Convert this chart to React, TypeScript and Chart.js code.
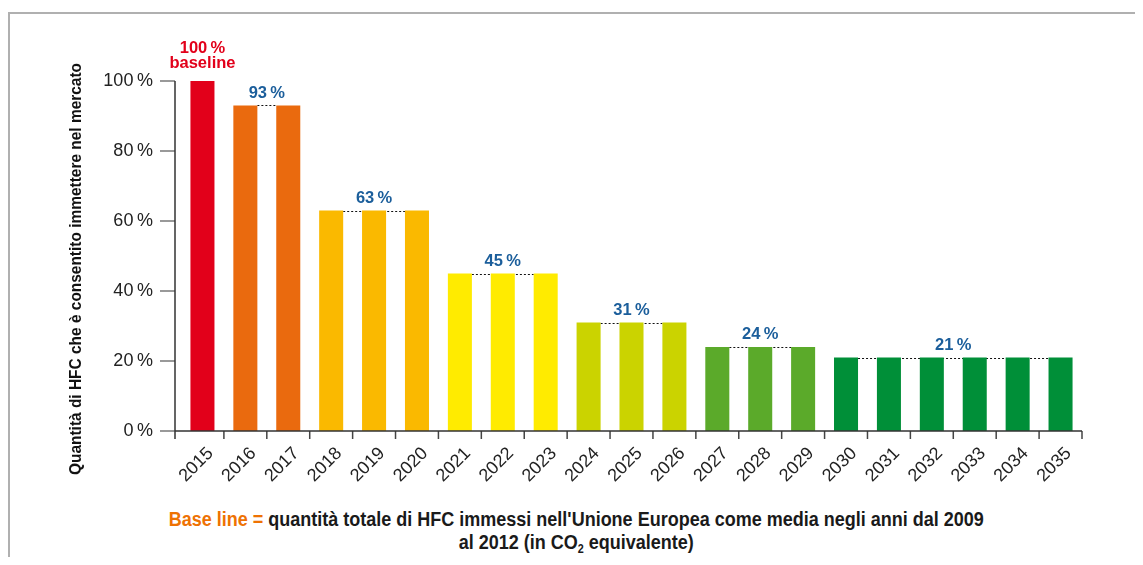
import React, { useEffect, useRef } from 'react';
import { Chart, registerables } from 'chart.js';

Chart.register(...registerables);

const years = ['2015', '2016', '2017', '2018', '2019', '2020', '2021', '2022', '2023', '2024', '2025', '2026', '2027', '2028', '2029', '2030', '2031', '2032', '2033', '2034', '2035'];
const quota = [100, 93, 93, 63, 63, 63, 45, 45, 45, 31, 31, 31, 24, 24, 24, 21, 21, 21, 21, 21, 21];
const yTickValues = [0, 20, 40, 60, 80, 100];
const baselineWord = 'baseline';
const yTitle = 'Quantità di HFC che è consentito immettere nel mercato';
const footerLead = 'Base line =';
const footerLine1 = " quantità totale di HFC immessi nell'Unione Europea come media negli anni dal 2009";
const footerLine2a = 'al 2012 (in CO';
const footerSub = '2';
const footerLine2b = ' equivalente)';

const phaseColors: Record<number, string> = {
  100: '#E2001A',
  93: '#EA6A0E',
  63: '#FAB900',
  45: '#FFEB00',
  31: '#CBD300',
  24: '#5BAA2A',
  21: '#008F38',
};

const FONT = '"Liberation Sans", Arial, Helvetica, sans-serif';
const THIN = '\u2009';

type Group = { start: number; end: number; value: number };
const groups: Group[] = [];
quota.forEach((v, i) => {
  const g = groups[groups.length - 1];
  if (g && g.value === v) g.end = i;
  else groups.push({ start: i, end: i, value: v });
});

const overlay = {
  id: 'overlay',
  beforeDatasetsDraw(chart: any) {
    const { ctx } = chart;
    const meta = chart.getDatasetMeta(0);
    ctx.save();
    ctx.strokeStyle = '#111';
    ctx.lineWidth = 1;
    ctx.setLineDash([2, 2]);
    groups.forEach((g) => {
      if (g.end === g.start) return;
      const a: any = meta.data[g.start];
      const b: any = meta.data[g.end];
      const yy = Math.round(a.y) + 0.5;
      ctx.beginPath();
      ctx.moveTo(a.x + a.width / 2, yy);
      ctx.lineTo(b.x - b.width / 2, yy);
      ctx.stroke();
    });
    ctx.restore();
  },
  afterDatasetsDraw(chart: any) {
    const { ctx, chartArea, scales } = chart;
    const y = scales.y;
    const meta = chart.getDatasetMeta(0);
    ctx.save();
    const axisX = chartArea.left - 6;
    const bottom = y.getPixelForValue(0);
    const top = y.getPixelForValue(100);
    // y ticks
    ctx.strokeStyle = '#777';
    ctx.lineWidth = 1.5;
    yTickValues.forEach((v) => {
      const py = y.getPixelForValue(v);
      ctx.beginPath();
      ctx.moveTo(axisX - 15, py);
      ctx.lineTo(axisX, py);
      ctx.stroke();
    });
    // x tick marks
    ctx.strokeStyle = '#444';
    const bounds: number[] = [];
    for (let i = 0; i < meta.data.length - 1; i++) bounds.push((meta.data[i].x + meta.data[i + 1].x) / 2);
    bounds.push(chartArea.right);
    bounds.forEach((bx) => {
      ctx.beginPath();
      ctx.moveTo(bx, bottom);
      ctx.lineTo(bx, bottom + 8);
      ctx.stroke();
    });
    // axes
    ctx.strokeStyle = '#333';
    ctx.lineWidth = 1.5;
    ctx.beginPath();
    ctx.moveTo(axisX, top);
    ctx.lineTo(axisX, bottom + 8);
    ctx.moveTo(axisX, bottom);
    ctx.lineTo(chartArea.right, bottom);
    ctx.stroke();

    // group labels
    ctx.textAlign = 'center';
    ctx.textBaseline = 'middle';
    ctx.font = `bold 16.5px ${FONT}`;
    groups.forEach((g, gi) => {
      const a: any = meta.data[g.start];
      const b: any = meta.data[g.end];
      const cx = (a.x + b.x) / 2;
      const topY = a.y;
      if (gi === 0) {
        ctx.fillStyle = '#E2001A';
        ctx.fillText(`${g.value}${THIN}%`, cx, topY - 33);
        ctx.fillText(baselineWord, cx, topY - 18);
      } else {
        ctx.fillStyle = '#1B5E9B';
        ctx.fillText(`${g.value}${THIN}%`, cx, topY - 12.5);
      }
    });

    // y title
    ctx.translate(69, 261);
    ctx.rotate(-Math.PI / 2);
    ctx.fillStyle = '#111';
    ctx.font = `bold 16px ${FONT}`;
    const w = ctx.measureText(yTitle).width;
    ctx.scale(412 / w, 1);
    ctx.fillText(yTitle, 0, 0);
    ctx.restore();
  },
};

export default function App() {
  const ref = useRef<HTMLCanvasElement>(null);
  useEffect(() => {
    if (!ref.current) return;
    const chart = new Chart(ref.current, {
      type: 'bar',
      data: {
        labels: years,
        datasets: [
          {
            data: quota,
            backgroundColor: quota.map((v) => phaseColors[v]),
            borderWidth: 0,
            categoryPercentage: 1,
            barPercentage: 0.56,
          },
        ],
      },
      options: {
        responsive: false,
        animation: false,
        events: [],
        layout: { padding: { left: 0, right: 61, top: 73, bottom: 0 } },
        plugins: { legend: { display: false }, tooltip: { enabled: false } },
        scales: {
          x: {
            grid: { display: false, drawTicks: false },
            border: { display: false },
            ticks: {
              autoSkip: false,
              minRotation: 45,
              maxRotation: 45,
              padding: 12,
              labelOffset: 8,
              color: '#222',
              font: { family: FONT, size: 18 },
            },
            afterFit: (s: any) => {
              s.height = 77;
            },
          },
          y: {
            min: 0,
            max: 100,
            grid: { display: false, drawTicks: false },
            border: { display: false },
            ticks: {
              stepSize: 20,
              padding: 28,
              color: '#222',
              font: { family: FONT, size: 18 },
              callback: (v: any) => `${v}${THIN}%`,
            },
            afterFit: (s: any) => {
              s.width = 173;
            },
          },
        },
      },
      plugins: [overlay],
    });
    return () => chart.destroy();
  }, []);

  return (
    <div style={{ position: 'relative', width: 1135, height: 549, overflow: 'hidden' }}>
      <div
        style={{
          position: 'absolute',
          left: 0,
          top: 4,
          width: 1135,
          height: 545,
          borderTop: '2px solid #b0b0b0',
          borderLeft: '2px solid #b0b0b0',
          boxSizing: 'border-box',
        }}
      />
      <canvas ref={ref} width={1135} height={500} style={{ position: 'absolute', left: 0, top: 0 }} />
      <div
        style={{
          position: 'absolute',
          left: 0,
          top: 500,
          width: 1135,
          textAlign: 'center',
          fontFamily: FONT,
          fontWeight: 'bold',
          fontSize: 20,
          lineHeight: '23px',
          color: '#1a1a1a',
          transform: 'scaleX(0.9)',
          transformOrigin: '575px 0',
        }}
      >
        <span style={{ color: '#EE7203' }}>{footerLead}</span>
        {footerLine1}
        <br />
        {footerLine2a}
        <span style={{ fontSize: 12, verticalAlign: '-4px', lineHeight: 0 }}>{footerSub}</span>
        {footerLine2b}
      </div>
    </div>
  );
}
